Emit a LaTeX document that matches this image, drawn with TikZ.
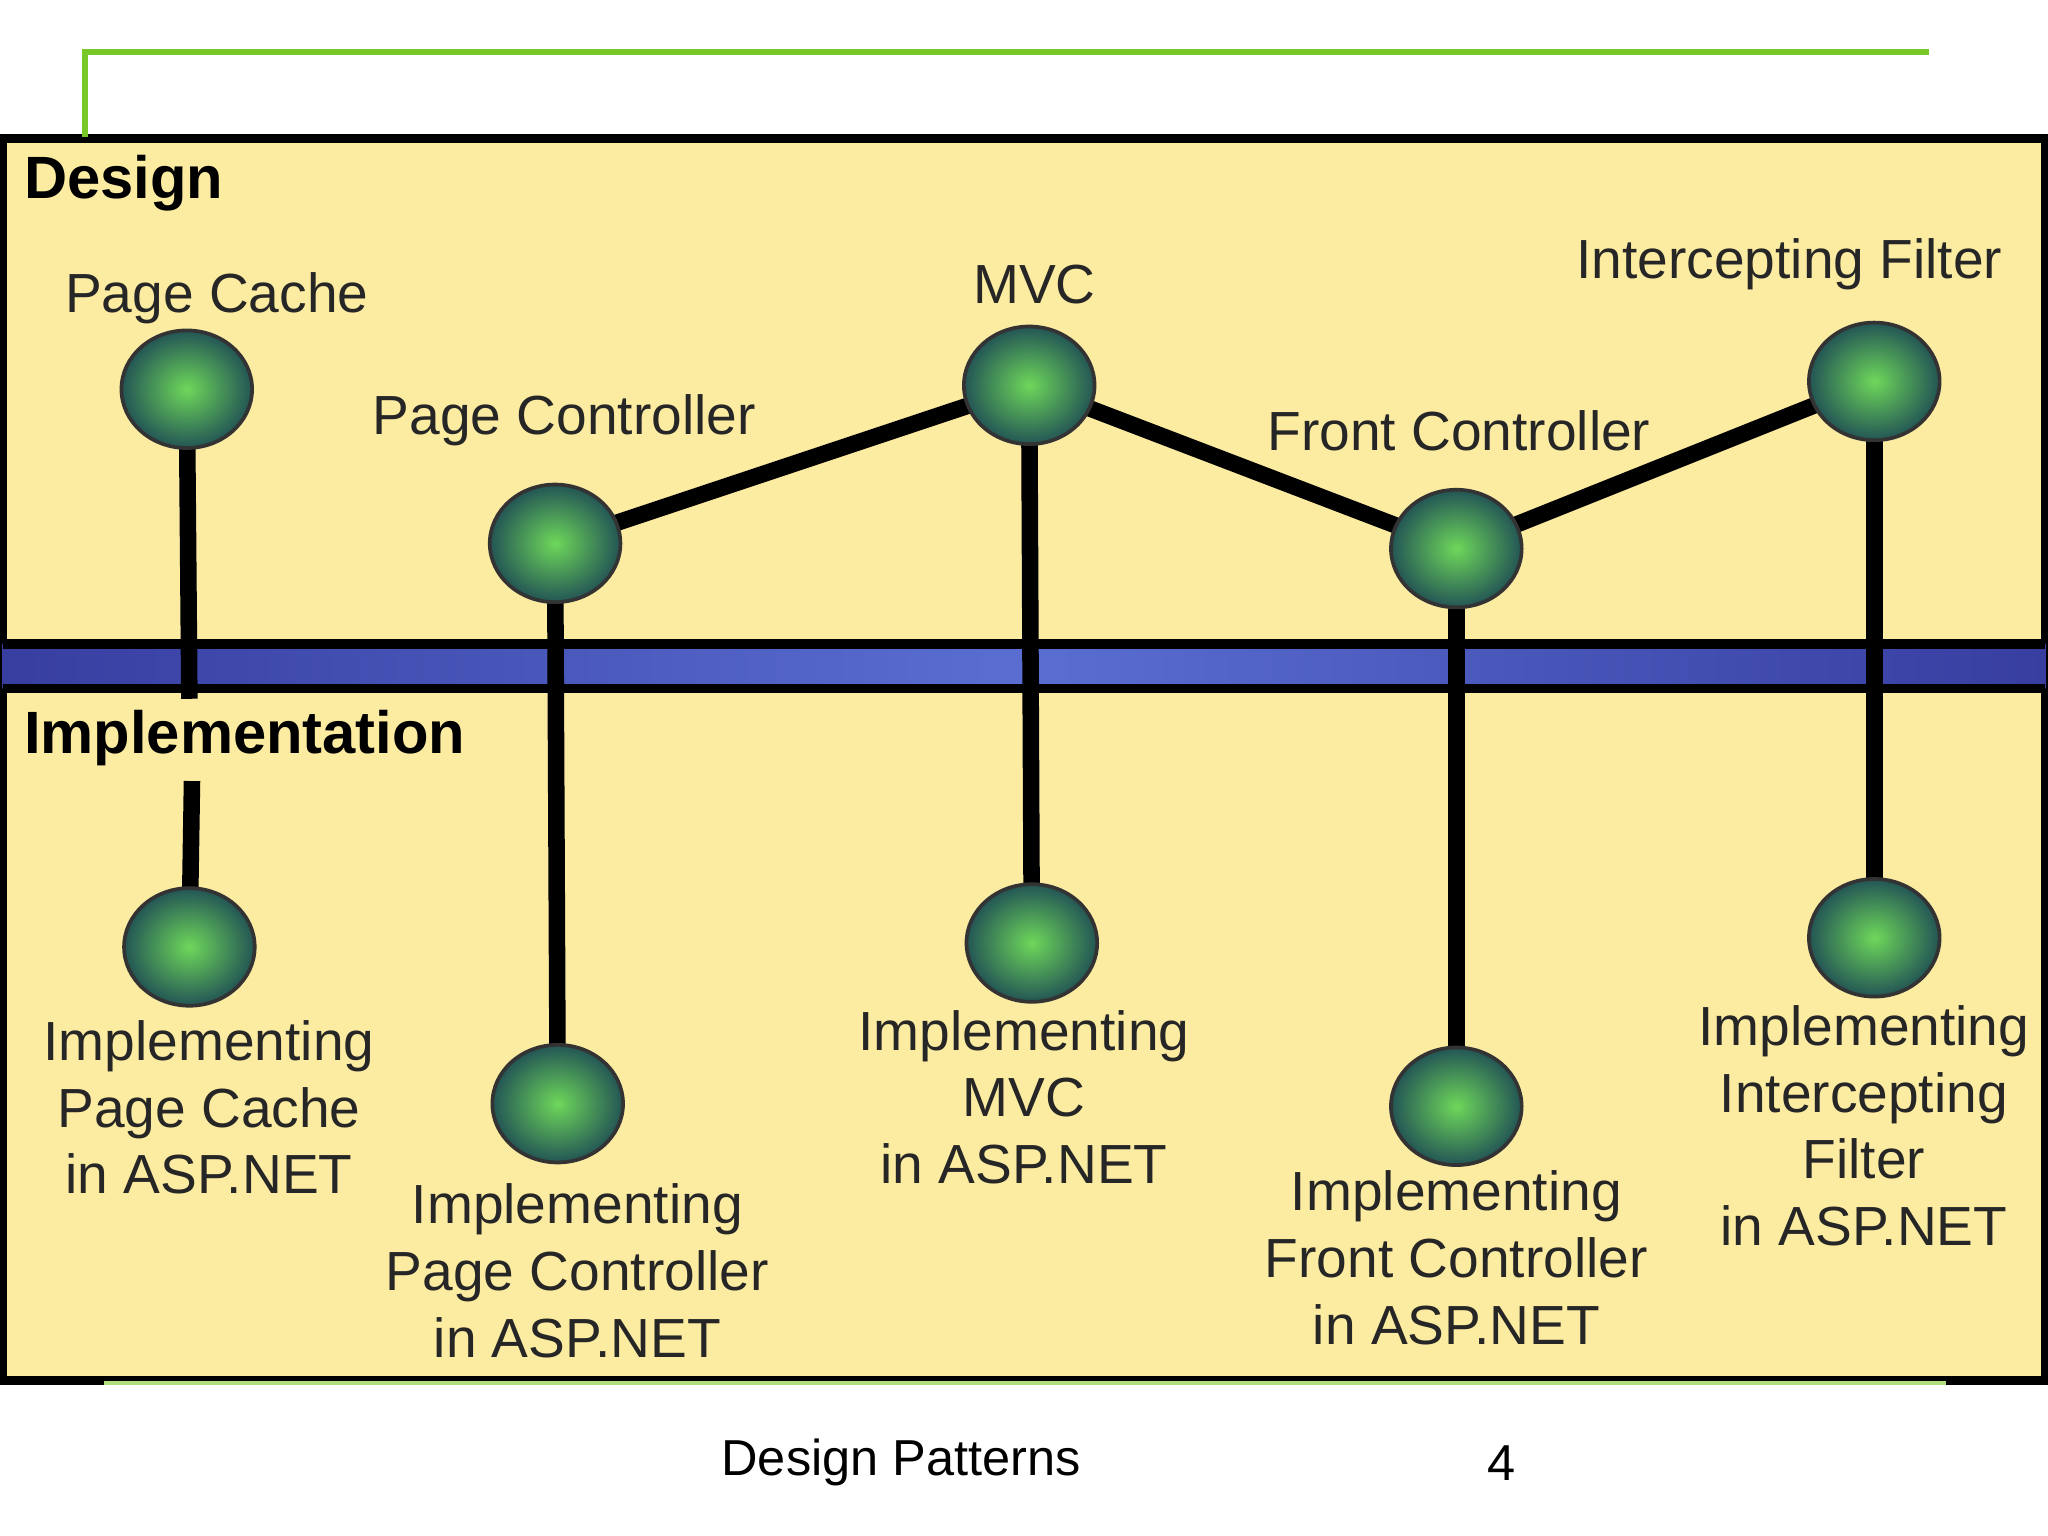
\documentclass[tikz,border=0pt]{standalone}
\usepackage{fontspec}
\setmainfont{Liberation Sans}
\usetikzlibrary{shapes.geometric,backgrounds}
\definecolor{bg}{RGB}{252,236,162}
\definecolor{band}{RGB}{55,62,160}
\definecolor{bandhi}{RGB}{90,110,210}
\definecolor{grn}{RGB}{120,200,40}
\definecolor{ballin}{RGB}{110,215,90}
\definecolor{ballout}{RGB}{35,85,85}
\begin{document}
\begin{tikzpicture}[x=0.01cm,y=-0.01cm,
  ball/.style={ellipse,minimum width=1cm,minimum height=0.9cm,inner sep=0pt,draw=black!80,line width=0.8pt,shading=radial,inner color=ballin,outer color=ballout},
  conn/.style={line width=3.6pt,black},
  lbl/.style={font=\fontsize{12}{14.5}\selectfont,align=center,text=black!85},
  head/.style={font=\fontsize{13}{15}\bfseries\selectfont,anchor=west}]
\useasboundingbox (0,0) rectangle (1568,1176);
\draw[grn,line width=1.2pt] (65,105) -- (65,40) -- (1477,40);
\draw[grn!60,line width=0.8pt] (80,1059) -- (1490,1059);
\node[ball] (d1) at (143,298) {};
\node[ball] (d2) at (425,416) {};
\node[ball] (d3) at (788,295) {};
\node[ball] (d4) at (1115,420) {};
\node[ball] (d5) at (1435,292) {};
\node[ball] (i1) at (145,725) {};
\node[ball] (i2) at (427,845) {};
\node[ball] (i3) at (790,722) {};
\node[ball] (i4) at (1115,847) {};
\node[ball] (i5) at (1435,718) {};
\coordinate (gapA) at (145,535);
\coordinate (gapB) at (147,598);
\begin{scope}[on background layer]
\draw[fill=bg,line width=2pt] (2,106) rectangle (1566,1057);
\shade[left color=band,right color=band,middle color=bandhi] (2,493) rectangle (1566,527);
\draw[line width=2pt] (2,493) -- (1566,493) (2,527) -- (1566,527);
\draw[conn] (d1.center) -- (gapA);
\draw[conn] (gapB) -- (i1.center);
\draw[conn] (d2.center) -- (i2.center);
\draw[conn] (d3.center) -- (i3.center);
\draw[conn] (d4.center) -- (i4.center);
\draw[conn] (d5.center) -- (i5.center);
\draw[conn] (d2.center) -- (d3.center);
\draw[conn] (d3.center) -- (d4.center);
\draw[conn] (d4.center) -- (d5.center);
\end{scope}
\node[head] (hd) at (6,140) {Design};
\node[head] (hi) at (6,565) {Implementation};
\node[lbl] (l1) at (166,228) {Page Cache};
\node[lbl] (l2) at (432,322) {Page Controller};
\node[lbl] (l3) at (792,218) {MVC};
\node[lbl] (l4) at (1117,330) {Front Controller};
\node[lbl] (l5) at (1370,202) {Intercepting Filter};
\node[lbl] (m1) at (160,848) {Implementing\\Page Cache\\in ASP.NET};
\node[lbl] (m2) at (442,973) {Implementing\\Page Controller\\in ASP.NET};
\node[lbl] (m3) at (784,840) {Implementing\\MVC\\in ASP.NET};
\node[lbl] (m4) at (1115,963) {Implementing\\Front Controller\\in ASP.NET};
\node[lbl] (m5) at (1427,862) {Implementing\\Intercepting\\Filter\\in ASP.NET};
\node[font=\fontsize{11}{13}\selectfont] (f1) at (690,1120) {Design Patterns};
\node[font=\fontsize{11}{13}\selectfont] (f2) at (1150,1120) {4};
\end{tikzpicture}
\end{document}
